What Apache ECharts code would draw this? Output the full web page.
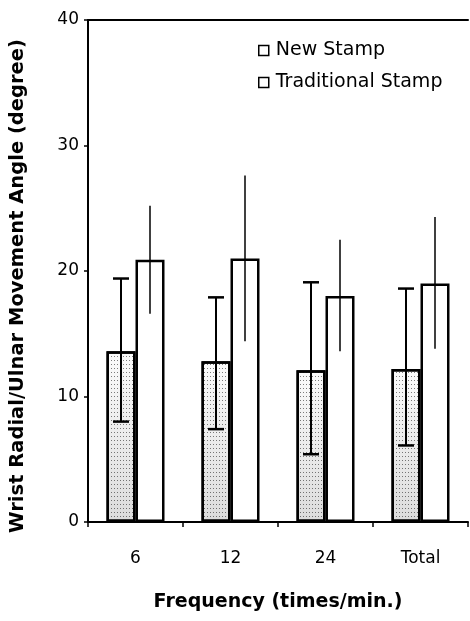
<!DOCTYPE html>
<html>
<head>
<meta charset="utf-8">
<script src="https://cdn.jsdelivr.net/npm/echarts@6/dist/echarts.min.js"></script>
<style>html,body{margin:0;padding:0;background:#fff;}#c{width:470px;height:621px;}</style>
</head>
<body>
<div id="c"></div>
<script>
var categories = ['6', '12', '24', 'Total'];
var yTicks = [0, 10, 20, 30, 40];
var newMean = [13.6, 12.8, 12.1, 12.2];
var newLow = [8.0, 7.4, 5.4, 6.1];
var newHigh = [19.4, 17.9, 19.1, 18.6];
var tradMean = [20.9, 21.0, 18.0, 19.0];
var tradLow = [16.6, 14.4, 13.6, 13.8];
var tradHigh = [25.2, 27.6, 22.5, 24.3];

var BAR_W = 29;
var FONT = '"DejaVu Sans", Verdana, sans-serif';

function errData(low, high) {
  return categories.map(function (c, i) { return [i, low[i], high[i]]; });
}
function errSeries(name, low, high, side, caps, lw) {
  return {
    type: 'custom',
    name: name + ' err',
    z: 5,
    silent: true,
    data: errData(low, high),
    renderItem: function (params, api) {
      var lo = api.coord([api.value(0), api.value(1)]);
      var hi = api.coord([api.value(0), api.value(2)]);
      var x = lo[0] + side * BAR_W / 2;
      var children = [{
        type: 'line',
        shape: { x1: x, y1: lo[1], x2: x, y2: hi[1] },
        style: { stroke: '#000', lineWidth: lw }
      }];
      if (caps) {
        var cw = 8;
        children.push({ type: 'line', shape: { x1: x - cw, y1: hi[1], x2: x + cw, y2: hi[1] }, style: { stroke: '#000', lineWidth: 2.5 } });
        children.push({ type: 'line', shape: { x1: x - cw, y1: lo[1], x2: x + cw, y2: lo[1] }, style: { stroke: '#000', lineWidth: 2.5 } });
      }
      return { type: 'group', children: children };
    }
  };
}

var chart = echarts.init(document.getElementById('c'));
chart.setOption({
  animation: false,
  backgroundColor: '#fff',
  textStyle: { fontFamily: FONT, color: '#000' },
  grid: { left: 88, right: 2, top: 20, bottom: 99 },
  legend: {
    orient: 'vertical',
    left: 253,
    top: 36,
    itemWidth: 10,
    itemHeight: 10,
    itemGap: 13,
    icon: 'rect',
    textStyle: { fontSize: 19, fontFamily: FONT, color: '#000', padding: [0, 0, 0, 2] },
    data: [
      { name: 'New Stamp', itemStyle: { color: '#fff', borderColor: '#000', borderWidth: 1.5, decal: 'none' } },
      { name: 'Traditional Stamp', itemStyle: { color: '#fff', borderColor: '#000', borderWidth: 1.5 } }
    ]
  },
  xAxis: [{
    type: 'category',
    data: categories,
    axisLine: { show: true, lineStyle: { color: '#000', width: 2 } },
    axisTick: { show: true, alignWithLabel: false, length: 5, lineStyle: { color: '#000', width: 1.5 } },
    axisLabel: { fontSize: 17, color: '#000', margin: 28, fontFamily: FONT },
    name: 'Frequency (times/min.)',
    nameLocation: 'middle',
    nameGap: 71,
    nameTextStyle: { fontSize: 19, fontWeight: 'bold', color: '#000', fontFamily: FONT }
  }, {
    type: 'category',
    position: 'top',
    data: categories,
    axisLine: { show: true, lineStyle: { color: '#000', width: 2 } },
    axisTick: { show: false },
    axisLabel: { show: false }
  }],
  yAxis: {
    type: 'value',
    min: yTicks[0],
    max: yTicks[yTicks.length - 1],
    interval: 10,
    axisLine: { show: true, lineStyle: { color: '#000', width: 2 } },
    axisTick: { show: true, length: 4, lineStyle: { color: '#000', width: 1.5 } },
    splitLine: { show: false },
    axisLabel: { fontSize: 17, color: '#000', margin: 9, fontFamily: FONT },
    name: 'Wrist Radial/Ulnar Movement Angle (degree)',
    nameLocation: 'middle',
    nameGap: 60,
    nameTextStyle: { fontSize: 19.5, fontWeight: 'bold', color: '#000', fontFamily: FONT, padding: [0, 30, 0, 0] }
  },
  series: [{
    name: 'New Stamp',
    type: 'bar',
    data: newMean,
    barWidth: BAR_W,
    barGap: '0%',
    itemStyle: {
      color: { type: 'linear', x: 0, y: 0, x2: 0, y2: 1, colorStops: [{ offset: 0, color: '#fbfbfb' }, { offset: 1, color: '#dcdcdc' }] },
      borderColor: '#000',
      borderWidth: 2.5,
      decal: { symbol: 'rect', symbolSize: 1, dashArrayX: [1, 2], dashArrayY: [1, 3], color: 'rgba(0,0,0,0.5)' }
    }
  }, {
    name: 'Traditional Stamp',
    type: 'bar',
    data: tradMean,
    barWidth: BAR_W,
    itemStyle: { color: '#fff', borderColor: '#000', borderWidth: 2.5 }
  },
  errSeries('New Stamp', newLow, newHigh, -1, true, 2),
  errSeries('Traditional Stamp', tradLow, tradHigh, 1, false, 1.5)
  ]
});
</script>
</body>
</html>
